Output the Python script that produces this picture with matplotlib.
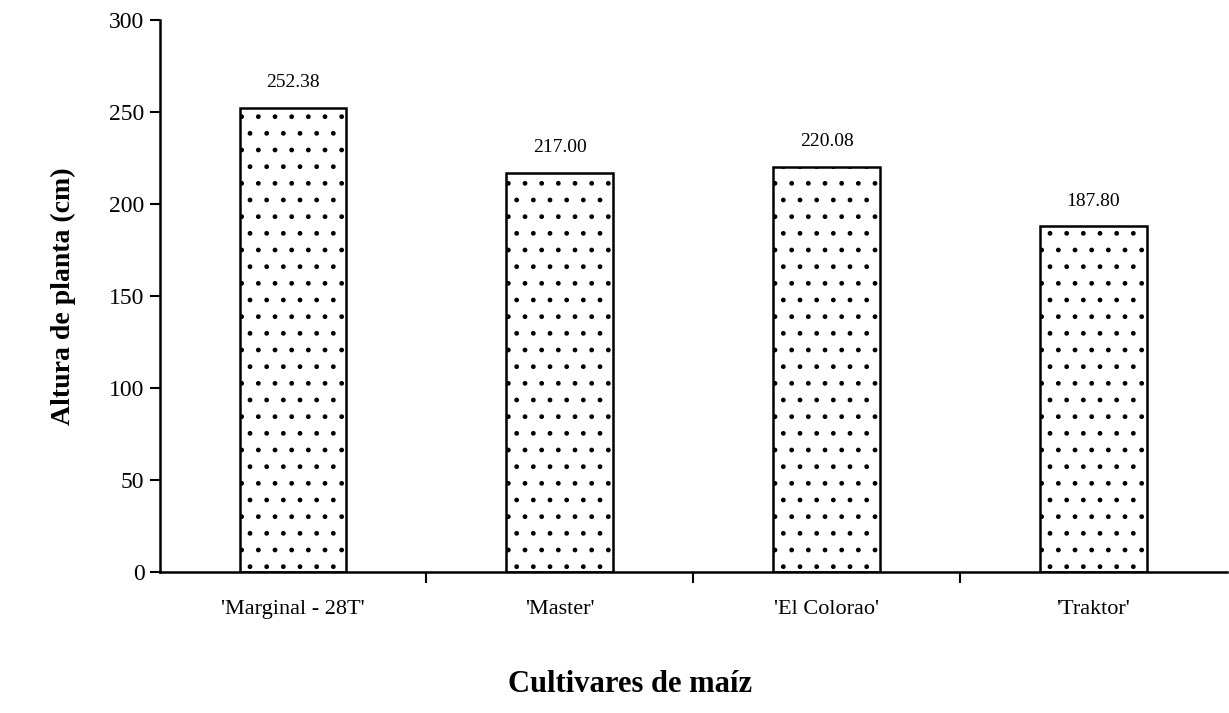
import matplotlib.pyplot as plt
import matplotlib as mpl

cultivares = ["'Marginal - 28T'", "'Master'", "'El Colorao'", "'Traktor'"]
altura = [252.38, 217.00, 220.08, 187.80]
etiquetas = ["252.38", "217.00", "220.08", "187.80"]

plt.rcParams['font.family'] = ['Liberation Serif', 'DejaVu Serif']
mpl.rcParams['hatch.linewidth'] = 1.0

fig = plt.figure(figsize=(12.29, 7.13), dpi=100)
ax = fig.add_axes([0.130, 0.198, 0.868, 0.774])

x = list(range(len(cultivares)))
bars = ax.bar(x, altura, width=0.4, color='white', edgecolor='black',
              linewidth=1.8, hatch='.')

for b, lab in zip(bars, etiquetas):
    ax.text(b.get_x() + b.get_width() / 2, b.get_height() + 9, lab,
            ha='center', va='bottom', fontsize=14)

ax.set_xlim(-0.5, 3.5)
ax.set_ylim(0, 300)
ax.set_yticks(range(0, 301, 50))
ax.tick_params(axis='y', labelsize=17, length=7, width=1.5, direction='out', pad=4)

# categorias sin marca, marcas entre categorias
ax.set_xticks(x)
ax.set_xticklabels(cultivares, fontsize=16)
ax.tick_params(axis='x', length=0, pad=20)
ax.set_xticks([0.5, 1.5, 2.5], minor=True)
ax.tick_params(axis='x', which='minor', length=8, width=1.5, direction='out')

for s in ['top', 'right']:
    ax.spines[s].set_visible(False)
ax.spines['left'].set_linewidth(1.8)
ax.spines['bottom'].set_linewidth(1.8)

ax.set_ylabel('Altura de planta (cm)', fontsize=20, fontweight='bold', labelpad=24)
fig.text(0.513, 0.03, 'Cultivares de maíz', ha='center', fontsize=22, fontweight='bold')

fig.savefig('out.png', dpi=100)
